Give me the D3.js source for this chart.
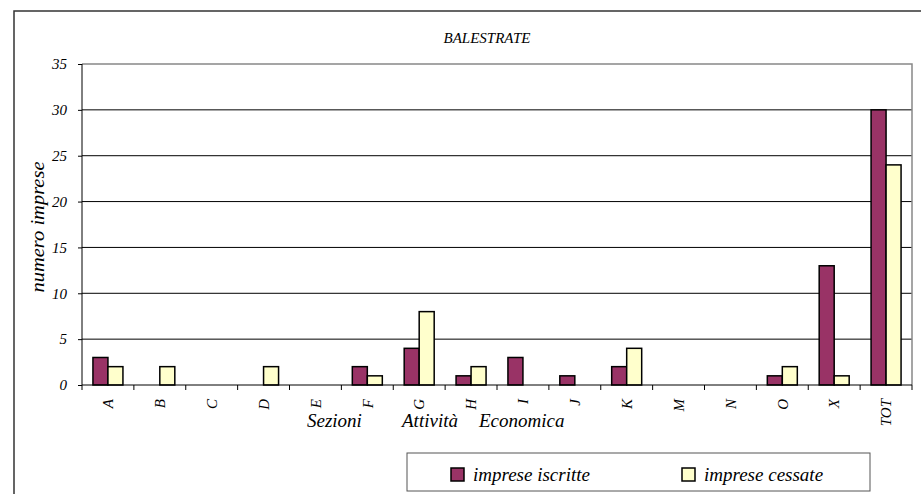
<!DOCTYPE html>
<html><head><meta charset="utf-8">
<script src="https://cdn.jsdelivr.net/npm/d3@7"></script>
</head><body style="margin:0;background:#fff">
<script>
const categories = ["A","B","C","D","E","F","G","H","I","J","K","M","N","O","X","TOT"];
const iscritte = [3,0,0,0,0,2,4,1,3,1,2,0,0,1,13,30];
const cessate  = [2,2,0,2,0,1,8,2,0,0,4,0,0,2,1,24];
const yTicks = [0,5,10,15,20,25,30,35];
const seriesNames = ["imprese iscritte","imprese cessate"];
const xTitleWords = ["Sezioni","Attività","Economica"];
const colors = ["#993366","#FFFFCC"];

const FONT="Liberation Serif";
const W=921,H=494;
const svg=d3.select("body").append("svg").attr("width",W).attr("height",H).style("display","block")
  .attr("font-family",FONT).attr("font-style","italic");
svg.append("rect").attr("x",14).attr("y",11).attr("width",W).attr("height",H).attr("fill","#fff").attr("stroke","#333").attr("stroke-width",1.5);

const L=82,R=912,T=64,B=385;
const x=d3.scaleBand().domain(categories).range([L,R]);
const y=d3.scaleLinear().domain([0,35]).range([B,T]);

svg.append("text").attr("x",487).attr("y",43).attr("text-anchor","middle").attr("font-size",15).text("BALESTRATE");

svg.append("g").selectAll("line").data(yTicks.filter(d=>d>0&&d<35)).join("line")
 .attr("x1",L).attr("x2",R).attr("y1",d=>y(d)).attr("y2",d=>y(d)).attr("stroke","#000").attr("stroke-width",1);
svg.append("path").attr("d",`M${L},${y(35)}H${R}V${B}`).attr("fill","none").attr("stroke","#888").attr("stroke-width",1.5);

const bw=15, off=(x.bandwidth()-2*bw)/2;
const g=svg.append("g");
[iscritte,cessate].forEach((arr,si)=>{
  g.selectAll(null).data(arr.map((v,i)=>({v,c:categories[i]})).filter(d=>d.v>0)).join("rect")
   .attr("x",d=>x(d.c)+off+si*bw).attr("y",d=>y(d.v)).attr("width",bw).attr("height",d=>B-y(d.v))
   .attr("fill",colors[si]).attr("stroke","#000").attr("stroke-width",1.5);
});

const ya=svg.append("g").attr("transform",`translate(${L},0)`).call(d3.axisLeft(y).tickValues(yTicks).tickSize(4).tickPadding(11));
ya.attr("font-family",FONT).attr("font-size",15);
ya.select(".domain").attr("stroke","#000").attr("d",`M0,${y(35)}V${B}`);
ya.selectAll("text").attr("font-family",FONT).attr("font-style","italic").attr("font-size",15);

const xa=svg.append("g").attr("transform",`translate(0,${B})`);
xa.append("line").attr("x1",L).attr("x2",R).attr("stroke","#000");
xa.selectAll(".t").data(categories.concat(["_end"])).join("line").attr("class","t")
 .attr("x1",(d,i)=>L+i*x.step()).attr("x2",(d,i)=>L+i*x.step()).attr("y1",0).attr("y2",5).attr("stroke","#000");
xa.selectAll("text").data(categories).join("text")
 .attr("transform",d=>`translate(${x(d)+x.bandwidth()/2},14) rotate(-90)`)
 .attr("text-anchor","end").attr("dy","0.35em").attr("font-size",15).text(d=>d);

const xt=svg.append("text").attr("y",427).attr("font-size",19);
const xtPos=[307,402,479];
xTitleWords.forEach((w,i)=>xt.append("tspan").attr("x",xtPos[i]).text(w));

svg.append("text").attr("transform","translate(44,227) rotate(-90)").attr("text-anchor","middle").attr("font-size",19)
 .attr("textLength",131).attr("lengthAdjust","spacingAndGlyphs").text("numero imprese");

const lg=svg.append("g");
lg.append("rect").attr("x",407).attr("y",453).attr("width",463).attr("height",38).attr("fill","#fff").attr("stroke","#555").attr("stroke-width",1);
const lx=[451,682];
seriesNames.forEach((n,i)=>{
  lg.append("rect").attr("x",lx[i]).attr("y",468).attr("width",13).attr("height",13).attr("fill",colors[i]).attr("stroke","#000").attr("stroke-width",1.5);
  lg.append("text").attr("x",lx[i]+22).attr("y",481).attr("font-size",19).text(n);
});
</script>
</body></html>
